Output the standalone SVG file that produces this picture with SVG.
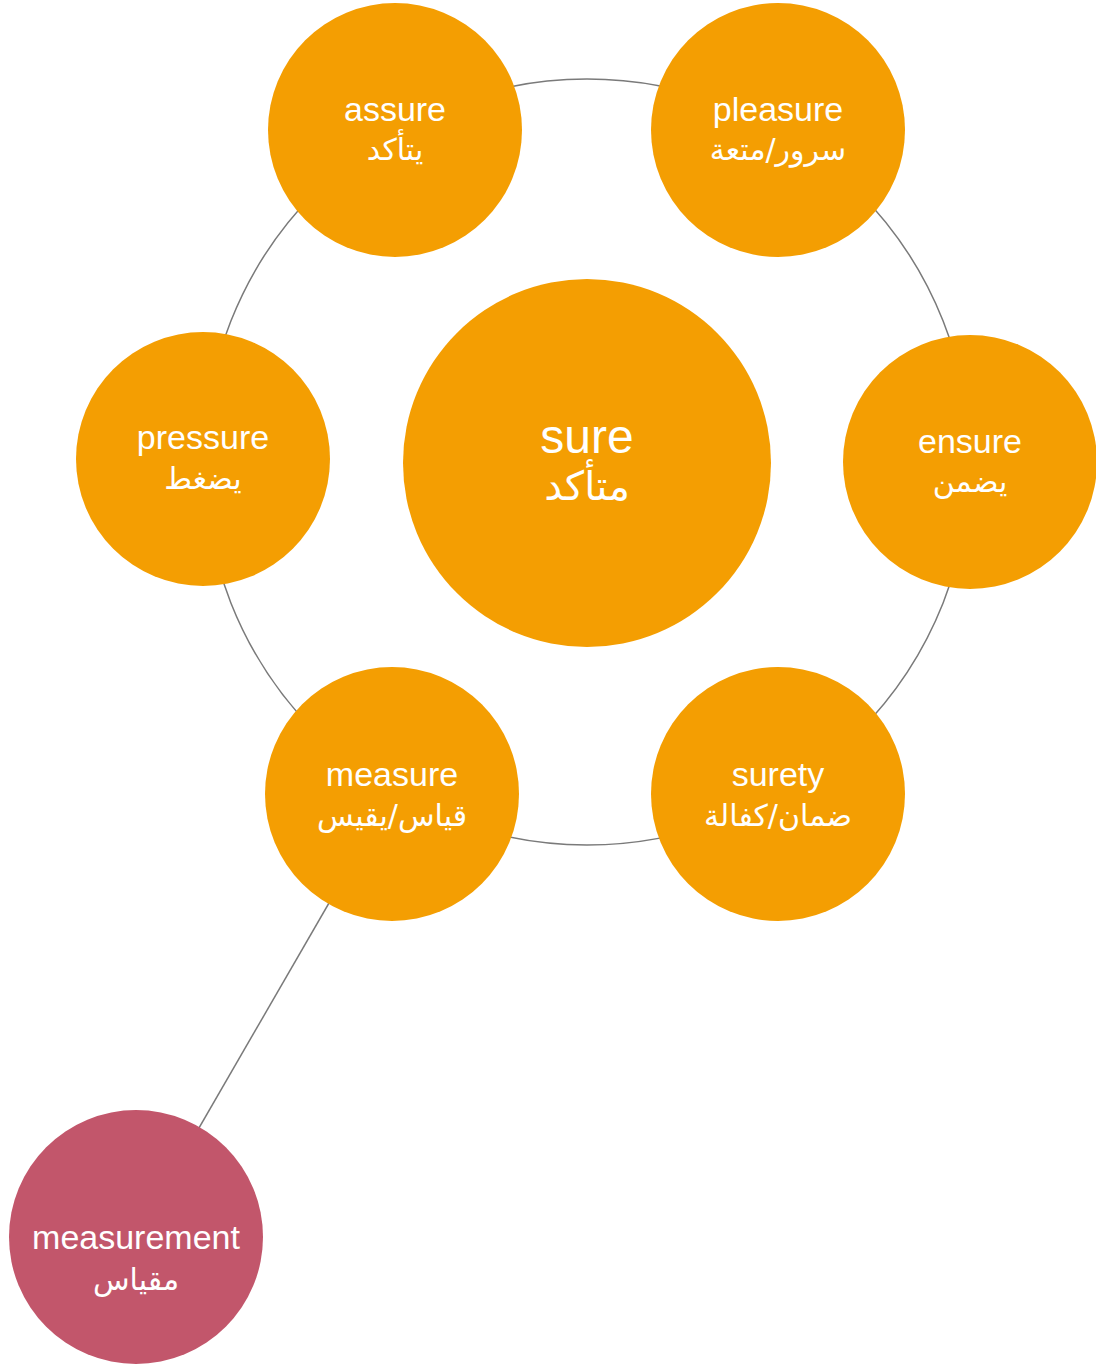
<svg xmlns="http://www.w3.org/2000/svg" width="1096" height="1367" viewBox="0 0 1096 1367">
<style>
.n{fill:#F49E02}
.p{fill:#C2566B}
.t{font-family:"Liberation Sans","DejaVu Sans",sans-serif;fill:#fff;text-anchor:middle;font-size:34px}
.a{font-family:"DejaVu Sans","Liberation Sans",sans-serif;fill:#fff;text-anchor:middle;font-size:30px}
.big{font-size:48px}
.bigA{font-size:40px}
.c{fill:none;stroke:#7a7a7a;stroke-width:1.5}
</style>
<rect width="1096" height="1367" fill="#fff"/>
<g id="connectors">
<circle class="c" cx="587" cy="462" r="383"/>
<line class="c" x1="392" y1="794" x2="136" y2="1237"/>
</g>
<g id="sure"><circle class="n" cx="587" cy="463" r="184"/><text class="t big" x="587" y="453">sure</text><text class="a bigA" x="587" y="500">متأكد</text></g>
<g id="assure"><circle class="n" cx="395" cy="130" r="127"/><text class="t" x="395" y="121">assure</text><text class="a" x="395" y="160">يتأكد</text></g>
<g id="pleasure"><circle class="n" cx="778" cy="130" r="127"/><text class="t" x="778" y="121">pleasure</text><text class="a" x="778" y="160">سرور/متعة</text></g>
<g id="pressure"><circle class="n" cx="203" cy="459" r="127"/><text class="t" x="203" y="449">pressure</text><text class="a" x="203" y="489">يضغط</text></g>
<g id="ensure"><circle class="n" cx="970" cy="462" r="127"/><text class="t" x="970" y="453">ensure</text><text class="a" x="970" y="492">يضمن</text></g>
<g id="measure"><circle class="n" cx="392" cy="794" r="127"/><text class="t" x="392" y="786">measure</text><text class="a" x="392" y="826">قياس/يقيس</text></g>
<g id="surety"><circle class="n" cx="778" cy="794" r="127"/><text class="t" x="778" y="786">surety</text><text class="a" x="778" y="826">ضمان/كفالة</text></g>
<g id="measurement"><circle class="p" cx="136" cy="1237" r="127"/><text class="t" x="136" y="1249">measurement</text><text class="a" x="136" y="1290">مقياس</text></g>
</svg>
